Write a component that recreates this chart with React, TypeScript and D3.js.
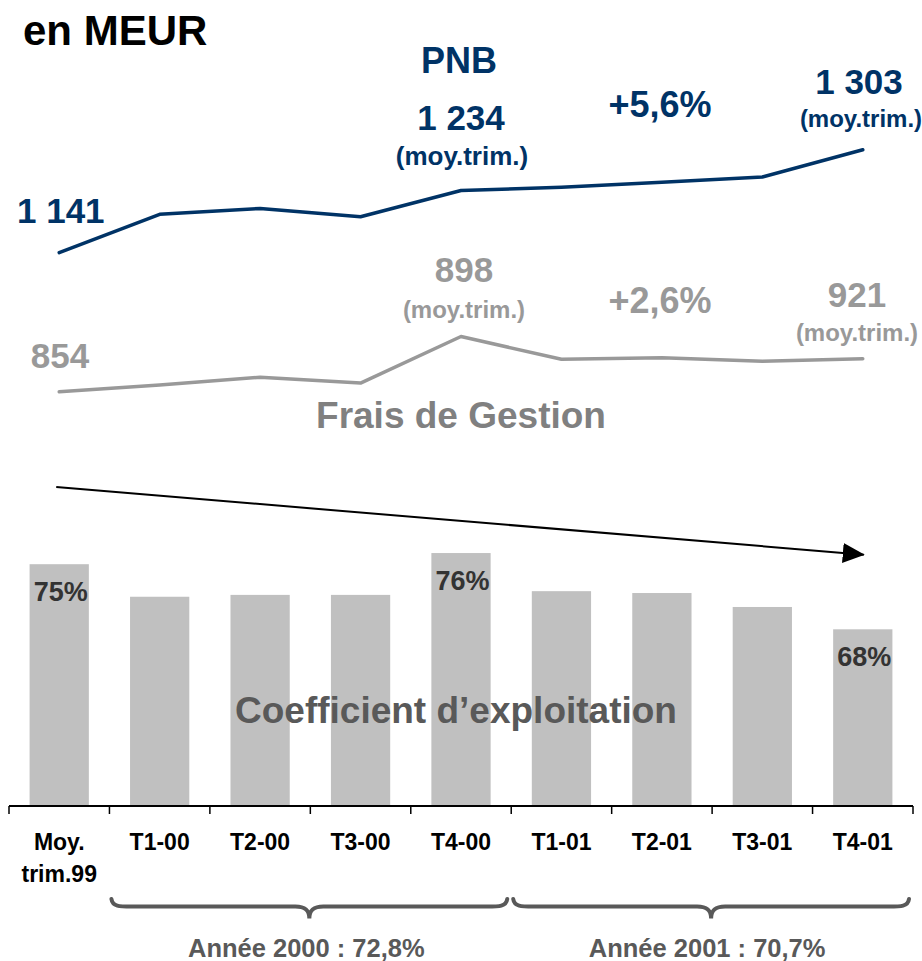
import React from 'react';
import * as d3 from 'd3';

// quarters, 1999 average then 2000 and 2001
const categories = ['Moy.99', 'T1-00', 'T2-00', 'T3-00', 'T4-00', 'T1-01', 'T2-01', 'T3-01', 'T4-01'];
const tickLabels = [['Moy.', 'trim.99'], ['T1-00'], ['T2-00'], ['T3-00'], ['T4-00'], ['T1-01'], ['T2-01'], ['T3-01'], ['T4-01']];

// MEUR
const pnb = [1141, 1220, 1232, 1215, 1269, 1276, 1286, 1297, 1353];
const frais = [854, 868, 884, 872, 968, 921, 924, 917, 922];

// coefficient d'exploitation, %
const coef = [75.0, 71.5, 71.7, 71.7, 76.2, 72.1, 71.9, 70.4, 68.0];
const coefLabelled = [0, 4, 8];

const years = [
  { label: 'Année 2000 : 72,8%', from: 1, to: 4 },
  { label: 'Année 2001 : 70,7%', from: 5, to: 8 },
];

const NAVY = '#003366';
const GREY = '#999999';
const DARK = '#595959';
const FONT = "'Liberation Sans', Arial, Helvetica, sans-serif";

export default function App() {
  const W = 922;
  const H = 961;
  const base = 806;

  const x = d3.scaleBand<string>()
    .domain(categories)
    .range([9, 913])
    .paddingInner(0.41)
    .paddingOuter(0.205);
  const step = x.step();
  const bw = x.bandwidth();
  const cx = (i: number) => (x(categories[i]) as number) + bw / 2;
  const edge = (i: number) => 9 + i * step;

  const yBar = d3.scaleLinear().domain([49, 79]).range([base, base - 30 * 9.3]);
  const yLine = d3.scaleLinear().domain([0, 1400]).range([base, base - 1400 * 0.485]);

  const line = d3.line<number>()
    .x((_, i) => cx(i))
    .y(d => yLine(d));

  // trend arrow over the bars
  const ax0 = cx(0) - 3;
  const ax1 = cx(8) + 3;
  const ay0 = yBar(83.3);
  const ay1 = yBar(76);

  const brace = (x0: number, x1: number) => {
    const xm = (x0 + x1) / 2;
    const yt = 899, yb = 906.5, yp = 918.5;
    return `M${x0},${yt} C${x0 + 1},${yb} ${x0 + 8},${yb} ${x0 + 20},${yb} `
      + `L${xm - 14},${yb} C${xm - 5},${yb} ${xm},${yb + 3} ${xm},${yp} `
      + `C${xm},${yb + 3} ${xm + 5},${yb} ${xm + 14},${yb} `
      + `L${x1 - 20},${yb} C${x1 - 8},${yb} ${x1 - 1},${yb} ${x1},${yt}`;
  };

  return (
    <div style={{ position: 'absolute', left: 0, top: 0 }}>
      <svg width={W} height={H} style={{ display: 'block', background: '#fff' }} fontFamily={FONT} fontWeight="bold">
        <defs>
          <marker id="head" viewBox="0 0 22 20" refX="21" refY="10" markerWidth="22" markerHeight="20"
            markerUnits="userSpaceOnUse" orient="auto">
            <path d="M0,0 L22,10 L0,20 Z" fill="#000" />
          </marker>
        </defs>

        <text x={23} y={45} fontSize={42} fill="#000">en MEUR</text>

        {/* bars */}
        {coef.map((v, i) => (
          <rect key={categories[i]} x={x(categories[i])} y={yBar(v)} width={bw} height={base - yBar(v)} fill="#C0C0C0" />
        ))}
        {coefLabelled.map(i => (
          <text key={i} x={cx(i) + 1.5} y={yBar(coef[i]) + 37} fontSize={27} fill="#333" textAnchor="middle">
            {Math.round(coef[i])}%
          </text>
        ))}
        <text x={456} y={723} fontSize={37} fill={DARK} textAnchor="middle">Coefficient d’exploitation</text>

        {/* axis */}
        <line x1={9} x2={913} y1={base} y2={base} stroke="#000" strokeWidth={2} />
        {d3.range(categories.length + 1).map(i => (
          <line key={i} x1={edge(i)} x2={edge(i)} y1={base} y2={base + 8} stroke="#000" strokeWidth={1.5} />
        ))}
        {tickLabels.map((lines, i) => (
          <text key={i} x={cx(i)} y={850} fontSize={23} fill="#000" textAnchor="middle">
            {lines.map((t, j) => (
              <tspan key={j} x={cx(i)} dy={j === 0 ? 0 : 31.5}>{t}</tspan>
            ))}
          </text>
        ))}

        {/* year braces */}
        {years.map((g, k) => {
          const x0 = edge(g.from) + 2;
          const x1 = edge(g.to + 1) - 4;
          return (
            <g key={g.label}>
              <path d={brace(x0, x1)} fill="none" stroke={DARK} strokeWidth={4} strokeLinecap="round" />
              <text x={(x0 + x1) / 2 - 3 - k} y={956.5} fontSize={25.5} fill={DARK} textAnchor="middle">{g.label}</text>
            </g>
          );
        })}

        {/* trend arrow */}
        <line x1={ax0} y1={ay0} x2={ax1 - 2} y2={ay1 - 0.2} stroke="#000" strokeWidth={2} markerEnd="url(#head)" />

        {/* lines */}
        <path d={line(frais) || ''} fill="none" stroke={GREY} strokeWidth={3.5} strokeLinejoin="round" strokeLinecap="round" />
        <path d={line(pnb) || ''} fill="none" stroke={NAVY} strokeWidth={3.5} strokeLinejoin="round" strokeLinecap="round" />

        {/* PNB annotations */}
        <text x={459} y={73} fontSize={36} fill={NAVY} textAnchor="middle">PNB</text>
        <text x={17} y={223} fontSize={35} fill={NAVY}>1 141</text>
        <text x={461} y={130} fontSize={35} fill={NAVY} textAnchor="middle">1 234</text>
        <text x={462} y={165} fontSize={26} fill={NAVY} textAnchor="middle">(moy.trim.)</text>
        <text x={660} y={117} fontSize={36} fill={NAVY} textAnchor="middle">+5,6%</text>
        <text x={859} y={94} fontSize={35} fill={NAVY} textAnchor="middle">1 303</text>
        <text x={861} y={127} fontSize={24} fill={NAVY} textAnchor="middle">(moy.trim.)</text>

        {/* Frais de gestion annotations */}
        <text x={60} y={368} fontSize={35} fill={GREY} textAnchor="middle">854</text>
        <text x={464} y={282} fontSize={35} fill={GREY} textAnchor="middle">898</text>
        <text x={464} y={318} fontSize={24} fill={GREY} textAnchor="middle">(moy.trim.)</text>
        <text x={660} y={313} fontSize={36} fill={GREY} textAnchor="middle">+2,6%</text>
        <text x={857} y={307} fontSize={35} fill={GREY} textAnchor="middle">921</text>
        <text x={857} y={341} fontSize={24} fill={GREY} textAnchor="middle">(moy.trim.)</text>
        <text x={461} y={428} fontSize={37} fill="#808080" textAnchor="middle">Frais de Gestion</text>
      </svg>
    </div>
  );
}
